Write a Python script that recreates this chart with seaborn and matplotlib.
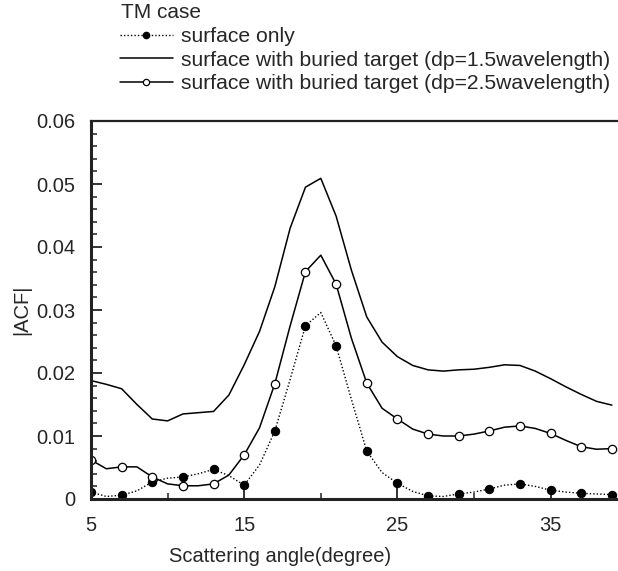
import numpy as np
import pandas as pd
import matplotlib
matplotlib.use("Agg")
import matplotlib.pyplot as plt
from matplotlib.lines import Line2D
from matplotlib.ticker import MultipleLocator, FixedLocator, FuncFormatter
import seaborn as sns

angles = list(range(5, 40))
surface_only = [0.0011, 0.0004, 0.0006, 0.0013, 0.0027, 0.0033, 0.0035, 0.0040, 0.0047, 0.0037,
                0.0022, 0.0054, 0.0108, 0.0190, 0.0275, 0.0296, 0.0243, 0.0158, 0.0076, 0.0042,
                0.0025, 0.0012, 0.0005, 0.0004, 0.0008, 0.0011, 0.0016, 0.0022, 0.0024, 0.0020,
                0.0014, 0.0011, 0.0009, 0.0008, 0.0007]
dp15 = [0.0188, 0.0182, 0.0175, 0.0150, 0.0127, 0.0124, 0.0135, 0.0137, 0.0139, 0.0165,
        0.0213, 0.0266, 0.0337, 0.0430, 0.0495, 0.0509, 0.0449, 0.0363, 0.0289, 0.0249,
        0.0226, 0.0212, 0.0205, 0.0203, 0.0205, 0.0206, 0.0209, 0.0213, 0.0212, 0.0203,
        0.0191, 0.0178, 0.0166, 0.0155, 0.0149]
dp25 = [0.0062, 0.0048, 0.0051, 0.0051, 0.0035, 0.0024, 0.0021, 0.0021, 0.0024, 0.0038,
        0.0070, 0.0113, 0.0183, 0.0275, 0.0361, 0.0387, 0.0341, 0.0255, 0.0184, 0.0144,
        0.0127, 0.0111, 0.0103, 0.0100, 0.0100, 0.0103, 0.0108, 0.0114, 0.0116, 0.0112,
        0.0104, 0.0093, 0.0083, 0.0079, 0.0080]

labels = ["surface only",
          "surface with buried target (dp=1.5wavelength)",
          "surface with buried target (dp=2.5wavelength)"]
legend_title = "TM case"
x_label = "Scattering angle(degree)"
y_label = "|ACF|"
y_ticks = [0, 0.01, 0.02, 0.03, 0.04, 0.05, 0.06]
x_ticks = [5, 15, 25, 35]

df = pd.DataFrame({"angle": angles, "surface": surface_only, "dp15": dp15, "dp25": dp25})

sns.set_style("ticks")
plt.rcParams['font.family'] = ['Liberation Sans', 'DejaVu Sans']

fig = plt.figure(figsize=(6.18, 5.71), dpi=100)
ax = fig.add_axes([91/618, 1-499/571, 1-91/618, (499-121)/571])

dotted = (0, (1, 1.5))
sns.lineplot(data=df, x="angle", y="surface", ax=ax, color="black", lw=1.0,
             linestyle=dotted, marker="o", markevery=2, markersize=6,
             markerfacecolor="black", markeredgecolor="black")
sns.lineplot(data=df, x="angle", y="dp15", ax=ax, color="black", lw=1.1)
sns.lineplot(data=df, x="angle", y="dp25", ax=ax, color="black", lw=1.1,
             marker="o", markevery=2, markersize=6, markerfacecolor="white",
             markeredgecolor="black", markeredgewidth=0.9)

ax.set_xlim(5, 39.4)
ax.set_ylim(0, 0.06)
ax.spines['right'].set_visible(False)
for s in ['left', 'bottom']:
    ax.spines[s].set_linewidth(2.2)
ax.spines['top'].set_linewidth(1.6)
for s in ax.spines.values():
    s.set_color("#222222")

ax.xaxis.set_major_locator(FixedLocator(x_ticks))
ax.xaxis.set_minor_locator(FixedLocator([10, 20, 30]))
ax.yaxis.set_major_locator(FixedLocator(y_ticks))
ax.yaxis.set_minor_locator(MultipleLocator(0.002))
ax.yaxis.set_major_formatter(FuncFormatter(lambda v, p: "0" if abs(v) < 1e-12 else f"{v:.2f}"))
ax.tick_params(axis='both', which='major', direction='in', length=8, width=1.3,
               labelsize=14.5, color="#222222")
ax.tick_params(axis='x', which='major', pad=12)
ax.tick_params(axis='y', which='major', pad=11)
ax.tick_params(axis='both', which='minor', direction='in', length=4, width=1.1, color="#222222")
ax.tick_params(axis='x', which='both', top=False)
ax.tick_params(axis='y', which='both', right=False)

ax.set_xlabel(x_label, fontsize=14.5)
ax.set_ylabel(y_label, fontsize=14.5)
ax.xaxis.label.set_verticalalignment('center')
ax.xaxis.set_label_coords((280-91)/(618-91), -(556-499)/378)
ax.yaxis.set_label_coords(-(91-22)/(618-91), 0.5)
ax.yaxis.label.set_verticalalignment('center')

fig.text(121/618, 1-12/571, legend_title, fontsize=15, ha="left", va="center")

handles = [
    Line2D([], [], color="black", lw=1.0, linestyle=dotted, marker="o", markersize=4.5,
           markerfacecolor="black"),
    Line2D([], [], color="black", lw=1.1),
    Line2D([], [], color="black", lw=1.1, marker="o", markersize=4.5,
           markerfacecolor="white", markeredgewidth=0.9),
]
leg = fig.legend(handles, labels, loc="upper left",
                 bbox_to_anchor=(120/618, 1-27/571), frameon=False, fontsize=15.2,
                 handlelength=2.5, handletextpad=0.38,
                 labelspacing=0.22, borderpad=0, borderaxespad=0)

fig.savefig("out.png", dpi=100)
